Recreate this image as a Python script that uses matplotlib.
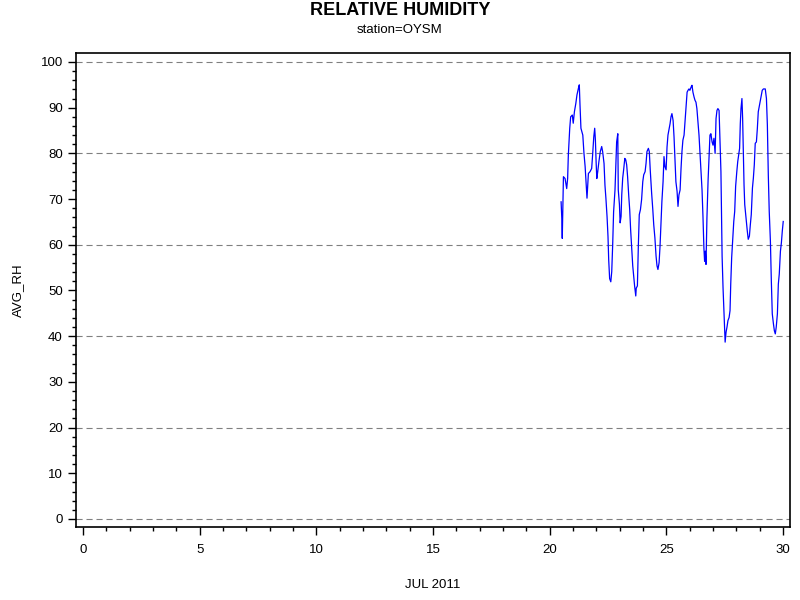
import matplotlib
matplotlib.use("Agg")
import matplotlib.pyplot as plt
from matplotlib.ticker import MultipleLocator

plt.rcParams['font.family'] = ['Liberation Sans', 'DejaVu Sans']

# day of July 2011 / average relative humidity (%)
day = [20.49, 20.52, 20.54, 20.59, 20.66, 20.73, 20.77, 20.80, 20.86, 20.90,
       20.97, 21.01, 21.06, 21.12, 21.17, 21.23, 21.27, 21.30, 21.34, 21.42,
       21.47, 21.52, 21.56, 21.60, 21.66, 21.73, 21.80, 21.84, 21.89, 21.93,
       21.96, 21.99, 22.02, 22.06, 22.11, 22.17, 22.23, 22.27, 22.33, 22.37,
       22.41, 22.46, 22.50, 22.53, 22.57, 22.62, 22.66, 22.70, 22.74, 22.80,
       22.84, 22.87, 22.92, 22.94, 22.99, 23.02, 23.06, 23.09, 23.13, 23.17,
       23.22, 23.26, 23.30, 23.34, 23.39, 23.43, 23.47, 23.52, 23.56, 23.60,
       23.64, 23.69, 23.71, 23.76, 23.80, 23.84, 23.89, 23.94, 23.99, 24.03,
       24.09, 24.13, 24.17, 24.23, 24.27, 24.31, 24.37, 24.42, 24.46, 24.51,
       24.56, 24.60, 24.64, 24.69, 24.73, 24.77, 24.81, 24.86, 24.90, 24.94,
       24.99, 25.03, 25.07, 25.11, 25.16, 25.20, 25.24, 25.29, 25.33, 25.37,
       25.41, 25.46, 25.50, 25.54, 25.59, 25.63, 25.67, 25.71, 25.76, 25.80,
       25.84, 25.89, 25.93, 25.97, 26.01, 26.06, 26.10, 26.14, 26.19, 26.23,
       26.27, 26.31, 26.36, 26.40, 26.44, 26.49, 26.53, 26.57, 26.61, 26.64,
       26.67, 26.70, 26.74, 26.79, 26.83, 26.87, 26.91, 26.96, 27.00, 27.04,
       27.09, 27.13, 27.17, 27.21, 27.26, 27.30, 27.34, 27.39, 27.43, 27.52,
       27.56, 27.60, 27.64, 27.69, 27.73, 27.76, 27.80, 27.84, 27.89, 27.93,
       27.97, 28.02, 28.06, 28.10, 28.14, 28.17, 28.20, 28.24, 28.27, 28.30,
       28.33, 28.36, 28.40, 28.44, 28.47, 28.51, 28.56, 28.60, 28.64, 28.69,
       28.73, 28.77, 28.81, 28.86, 28.90, 28.94, 28.99, 29.03, 29.07, 29.11,
       29.16, 29.20, 29.24, 29.29, 29.33, 29.37, 29.41, 29.46, 29.50, 29.54,
       29.59, 29.63, 29.67, 29.71, 29.76, 29.80, 29.84, 29.89, 29.93, 29.97,
       30.01]
avg_rh = [69.4, 65.8, 61.4, 74.9, 74.5, 72.3, 74.5, 79.6, 85.5, 88.0,
          88.4, 86.6, 89.1, 90.9, 92.8, 94.2, 95.0, 90.6, 85.5, 84.0,
          80.0, 77.1, 73.8, 70.2, 75.6, 76.0, 76.7, 79.6, 83.6, 85.5,
          82.9, 78.2, 74.5, 76.0, 78.2, 80.4, 81.5, 80.4, 77.8, 73.0,
          70.2, 66.1, 61.8, 56.7, 52.6, 51.9, 54.1, 59.9, 67.2, 72.0,
          78.2, 82.5, 84.3, 72.0, 68.8, 64.8, 66.2, 71.0, 74.6, 76.4,
          78.9, 78.6, 77.5, 74.9, 70.6, 67.7, 63.3, 59.0, 55.4, 53.2,
          51.0, 48.8, 50.5, 51.0, 59.7, 66.6, 67.7, 69.9, 73.8, 75.3,
          76.0, 77.8, 80.4, 81.1, 80.4, 76.4, 71.3, 67.7, 64.4, 61.5,
          57.5, 55.4, 54.6, 56.1, 59.7, 64.4, 69.5, 73.8, 79.3, 77.1,
          76.4, 81.4, 84.0, 85.1, 86.5, 88.0, 88.7, 87.2, 83.6, 78.6,
          73.8, 71.7, 68.4, 70.9, 72.0, 76.7, 80.4, 82.9, 84.0, 86.9,
          89.8, 93.4, 93.8, 94.1, 93.8, 94.5, 94.9, 93.4, 92.3, 91.6,
          91.2, 89.8, 86.5, 84.0, 80.4, 76.0, 72.0, 66.2, 59.3, 56.4,
          58.6, 55.7, 65.9, 74.2, 78.9, 84.0, 84.3, 82.5, 81.8, 83.3,
          80.0, 87.6, 89.4, 89.8, 89.4, 82.5, 76.0, 57.5, 50.6, 38.7,
          40.9, 42.0, 43.4, 44.1, 45.6, 51.4, 57.2, 60.8, 65.1, 67.3,
          72.8, 76.0, 78.2, 79.6, 81.1, 86.5, 89.8, 92.0, 87.6, 80.4,
          73.1, 68.8, 66.6, 64.4, 63.0, 61.2, 61.9, 64.4, 66.6, 72.4,
          74.6, 77.5, 82.2, 82.5, 85.4, 89.1, 90.5, 91.6, 92.7, 93.8,
          94.1, 94.1, 94.1, 92.0, 86.2, 75.3, 67.3, 60.8, 52.1, 44.9,
          42.7, 41.2, 40.5, 42.0, 44.9, 51.4, 53.6, 58.6, 60.4, 63.0,
          65.1]

ref_levels = [0, 20, 40, 60, 80, 100]

fig = plt.figure(figsize=(8, 6), dpi=100)
ax = fig.add_axes([0.095, 0.1217, 0.8925, 0.79])

for lv in ref_levels:
    ax.axhline(lv, color='#808080', lw=0.8, ls=(0, (5.5, 3.5)), zorder=1)

ax.plot(day, avg_rh, color='#0000ff', lw=0.9, zorder=2)

ax.set_xlim(-0.3, 30.3)
ax.set_ylim(-1.75, 101.97)
ax.xaxis.set_major_locator(MultipleLocator(5))
ax.xaxis.set_minor_locator(MultipleLocator(1))
ax.yaxis.set_major_locator(MultipleLocator(10))
ax.yaxis.set_minor_locator(MultipleLocator(2))
ax.tick_params(which='major', direction='out', length=6, width=1, labelsize=9.5)
ax.tick_params(which='minor', direction='out', length=3, width=1)
ax.tick_params(axis='x', which='major', pad=6)
for sp in ax.spines.values():
    sp.set_linewidth(1.2)

ax.set_xlabel("JUL 2011", fontsize=9.5, labelpad=17)
ax.set_ylabel("AVG_RH", fontsize=9.5, labelpad=12)

fig.text(0.5, 0.983, "RELATIVE HUMIDITY", ha='center', va='center',
         fontsize=13, fontweight='bold')
fig.text(0.5, 0.95, "station=OYSM", ha='center', va='center', fontsize=9.5)

plt.savefig("out.png", dpi=100)
